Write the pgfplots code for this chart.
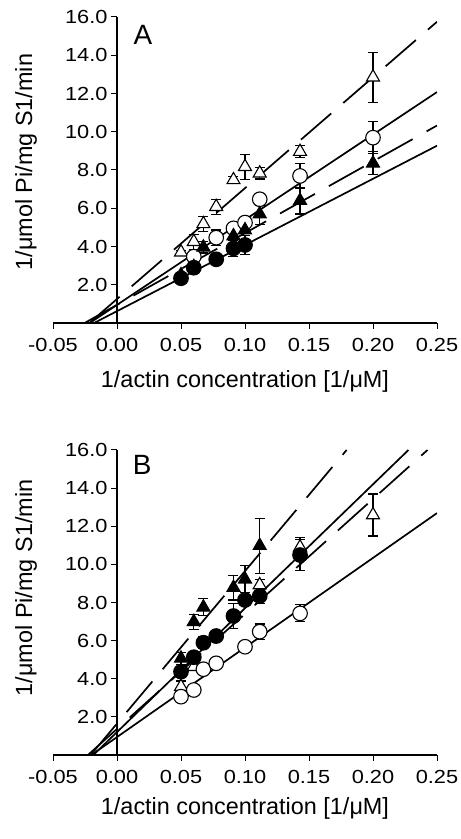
\documentclass[border=0pt]{standalone}
\usepackage{fontspec}
\setmainfont{Liberation Sans}
\newfontfamily\tickfont{Liberation Sans}[FakeStretch=1.15]
\usepackage{pgfplots}
\pgfplotsset{compat=1.18}
\newcommand\labfont{\fontsize{23.5}{28}\selectfont}
\pgfplotsset{
 panel/.style={
  scale only axis, width=384bp, anchor=south west,
  xmin=-0.05, xmax=0.25, ymin=0, ymax=16,
  axis x line*=bottom, axis y line*=middle,
  hide obscured x ticks=false, hide obscured y ticks=false,
  xtick={-0.05,0,0.05,0.1,0.15,0.2,0.25},
  xticklabels={-0.05,0.00,0.05,0.10,0.15,0.20,0.25},
  ytick={2,4,6,8,10,12,14,16},
  yticklabels={2.0,4.0,6.0,8.0,10.0,12.0,14.0,16.0},
  tick align=outside, major tick length=6bp,
  tick style={black, line width=1bp},
  axis line style={black, line width=1.3bp},
  tick label style={font=\tickfont\fontsize{19}{22}\selectfont},
  xticklabel style={yshift=-6bp},
  xlabel={1/actin concentration [1/μM]},
  ylabel={1/μmol Pi/mg S1/min},
 },
 fitline/.style={black, line width=1.7bp, no marks},
 dashline/.style={black, line width=1.7bp, no marks, dash pattern=on 40bp off 16bp},
 eb/.style={error bars/.cd, y dir=both, y explicit,
   error bar style={line width=1.1bp, black},
   error mark options={rotate=90, mark size=5bp, line width=1.1bp, black}},
 opentri/.style={only marks, mark=triangle*, mark size=7.5bp, mark options={fill=white, draw=black, line width=1.1bp}, eb},
 filltri/.style={only marks, mark=triangle*, mark size=7.5bp, mark options={fill=black, draw=black, line width=1.1bp}, eb},
 opencirc/.style={only marks, mark=*, mark size=7.3bp, mark options={fill=white, draw=black, line width=1.1bp}, eb},
 fillcirc/.style={only marks, mark=*, mark size=7.3bp, mark options={fill=black, draw=black, line width=1.1bp}, eb},
}
\begin{document}
\begin{tikzpicture}
\useasboundingbox (0,0) rectangle (461bp,839bp);
% ---------------- Panel A ----------------
\begin{axis}[panel, at={(53bp,516bp)}, height=306bp,
  every axis y label/.style={at={(axis description cs:-0.07,0.526)}, rotate=90, anchor=center, font=\labfont},
  every axis x label/.style={at={(axis description cs:0.5,-0.19)}, anchor=center, font=\labfont}]
\addplot[dashline] coordinates {(-0.0216,0) (0.25,15.75)};
\addplot[fitline] coordinates {(-0.0213,0) (0.25,12.075)};
\addplot[dashline] coordinates {(-0.0253,0) (0.25,10.325)};
\addplot[fitline] coordinates {(-0.0179,0) (0.25,9.27)};
\addplot[opentri] table[x=x, y=y, y error=e, row sep=\\] {
x y e \\
0.05 3.70 0.10 \\
0.06 4.25 0.40 \\
0.0675 5.18 0.40 \\
0.0775 6.08 0.40 \\
0.091 7.48 0.20 \\
0.1 8.17 0.65 \\
0.1115 7.83 0.30 \\
0.143 8.96 0.30 \\
0.2 12.85 1.30 \\
};
\addplot[opencirc] table[x=x, y=y, y error=e, row sep=\\] {
x y e \\
0.06 3.47 0.10 \\
0.0775 4.46 0.40 \\
0.091 4.95 0.15 \\
0.1 5.25 0.20 \\
0.1115 6.47 0.30 \\
0.143 7.69 0.65 \\
0.2 9.69 0.85 \\
};
\addplot[filltri] table[x=x, y=y, y error=e, row sep=\\] {
x y e \\
0.05 2.51 0.15 \\
0.06 2.94 0.20 \\
0.0675 3.96 0.30 \\
0.091 4.55 0.20 \\
0.1 4.86 0.20 \\
0.1115 5.70 0.55 \\
0.143 6.40 0.70 \\
0.2 8.35 0.60 \\
};
\addplot[fillcirc] table[x=x, y=y, y error=e, row sep=\\] {
x y e \\
0.05 2.34 0.10 \\
0.06 2.89 0.30 \\
0.0775 3.33 0.15 \\
0.091 3.90 0.40 \\
0.1 4.08 0.50 \\
};
\node[font=\fontsize{28}{32}\selectfont] at (axis description cs:0.234,0.941) {A};
\end{axis}
% ---------------- Panel B ----------------
\begin{axis}[panel, at={(53bp,84bp)}, height=305bp,
  every axis y label/.style={at={(axis description cs:-0.07,0.548)}, rotate=90, anchor=center, font=\labfont},
  every axis x label/.style={at={(axis description cs:0.5,-0.174)}, anchor=center, font=\labfont}]
\addplot[dashline] coordinates {(-0.0206,0) (0.1794,16)};
\addplot[fitline] coordinates {(-0.0185,0) (0.2277,16)};
\addplot[dashline] coordinates {(-0.0227,0) (0.2426,16)};
\addplot[fitline] coordinates {(-0.02,0) (0.25,12.69)};
\addplot[opentri] table[x=x, y=y, y error=e, row sep=\\] {
x y e \\
0.05 3.58 0.30 \\
0.06 4.63 0.20 \\
0.1115 8.92 0.30 \\
0.143 10.90 0.50 \\
0.2 12.59 1.10 \\
};
\addplot[opencirc] table[x=x, y=y, y error=e, row sep=\\] {
x y e \\
0.05 3.06 0.10 \\
0.06 3.41 0.10 \\
0.0675 4.50 0.10 \\
0.0775 4.81 0.10 \\
0.1 5.68 0.10 \\
0.1115 6.47 0.40 \\
0.143 7.43 0.45 \\
};
\addplot[filltri] table[x=x, y=y, y error=e, row sep=\\] {
x y e \\
0.05 5.07 0.30 \\
0.06 6.99 0.40 \\
0.0675 7.75 0.45 \\
0.091 8.78 0.65 \\
0.1 9.22 0.70 \\
0.1115 10.98 1.45 \\
};
\addplot[fillcirc] table[x=x, y=y, y error=e, row sep=\\] {
x y e \\
0.05 4.37 0.10 \\
0.06 5.13 0.30 \\
0.0675 5.89 0.30 \\
0.0775 6.24 0.30 \\
0.091 7.29 0.65 \\
0.1 8.13 0.30 \\
0.1115 8.34 0.40 \\
0.143 10.49 0.80 \\
};
\node[font=\fontsize{28}{32}\selectfont] at (axis description cs:0.232,0.951) {B};
\end{axis}
\end{tikzpicture}
\end{document}
